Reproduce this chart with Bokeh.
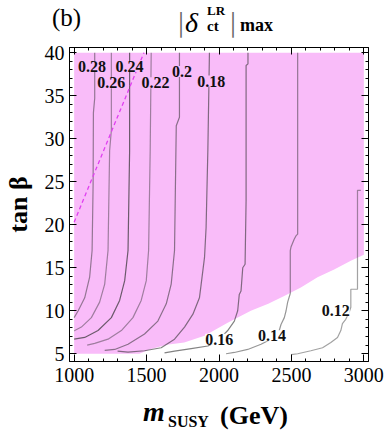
from bokeh.plotting import figure
from bokeh.models import Range1d, LinearAxis, SingleIntervalTicker, ColumnDataSource, Div
from bokeh.layouts import column
from bokeh.embed import file_html
from bokeh.resources import INLINE

# ---- data ----
# lower boundary of the shaded (pink) region, upper edge at tan(beta)=40
bnd_m = [1000, 1450, 1530, 1640, 1760, 1900, 2060, 2220, 2340, 2450, 2565, 2680, 2795, 2910, 3000]
bnd_t = [5, 5, 5.55, 6.05, 6.3, 7.1, 8.6, 10.0, 10.8, 11.7, 12.7, 13.9, 14.8, 15.8, 16.5]
top_t = 40

# contour lines of |delta_ct^LR|_max
c28_m = [1142, 1142, 1133, 1131, 1124, 1107, 1073, 1028, 1000]
c28_t = [40, 34.7, 33, 24.7, 17, 13.9, 11.5, 10, 9.2]
c26_m = [1257, 1257, 1245, 1234, 1211, 1176, 1119, 1050, 1004, 1000]
c26_t = [40, 31, 28.6, 17, 13.1, 11, 9.2, 8.1, 7.7, 7.7]
c24_m = [1383, 1383, 1372, 1349, 1314, 1257, 1165, 1073, 1000]
c24_t = [40, 28.6, 17, 13.5, 11.2, 9.2, 7.7, 6.9, 6.7]
c22_m = [1532, 1525, 1514, 1498, 1463, 1406, 1326, 1234, 1142, 1090]
c22_t = [40, 28.6, 17, 13.5, 11.2, 9.2, 7.7, 6.7, 6.2, 6.0]
c20_m = [1727, 1727, 1705, 1693, 1670, 1636, 1578, 1486, 1372, 1280, 1211]
c20_t = [40, 32.5, 31.5, 17, 13.1, 10.8, 8.8, 7.3, 6.1, 5.5, 5.4]
c18_m = [1934, 1923, 1911, 1900, 1877, 1865, 1820, 1762, 1693, 1601, 1486, 1372, 1300]
c18_t = [40, 28.6, 19.7, 16.2, 13.1, 11.5, 9.6, 8.1, 6.7, 5.7, 5.35, 5.2, 5.3]
c16_m = [2200, 2200, 2187, 2187, 2180, 2164, 2152, 2140, 2129, 2106, 2060, 1992, 1923, 1808, 1693, 1624]
c16_t = [40, 38.7, 38.5, 22.8, 15.4, 15.0, 12.3, 11.9, 10.0, 8.8, 7.7, 6.5, 5.9, 5.6, 5.3, 5.1]
c14_m = [2543, 2543, 2531, 2519, 2497, 2492, 2492, 2474, 2463, 2451, 2428, 2416, 2382, 2290, 2198, 2106, 2049]
c14_t = [40, 18.9, 18.7, 18.3, 17.4, 17, 12, 11, 10, 9.2, 8.4, 7.7, 6.9, 6.1, 5.5, 5.15, 5.0]
c12_m = [2979, 2956, 2956, 2910, 2910, 2898, 2875, 2852, 2841, 2818, 2772, 2715, 2634, 2543, 2497]
c12_t = [24, 24, 12.5, 12.5, 10.4, 9.8, 9.0, 8.5, 7.7, 6.9, 6.3, 5.7, 5.35, 5.0, 4.9]

# contour labels
lab_text = ["0.28", "0.26", "0.24", "0.22", "0.2", "0.18", "0.16", "0.14", "0.12"]
lab_m = [1124, 1257, 1383, 1562, 1744, 1946, 2001, 2365, 2806]
lab_t = [38.4, 36.5, 38.4, 36.5, 37.8, 36.7, 6.7, 7.1, 10.0]

# dashed magenta line
dash_m = [1000, 1482]
dash_t = [20.3, 40]

SERIF = "Liberation Serif"
W = 387

# ---- titles as HTML ----
def span(text, left, top, size, extra=""):
    return (f'<span style="position:absolute;left:{left}px;top:{top}px;font-size:{size}px;'
            f'line-height:1;white-space:nowrap;{extra}">{text}</span>')

top_html = (f'<div style="position:relative;width:{W}px;height:37px;font-family:\'{SERIF}\';color:black;">'
            + span("(b)", 52, 5, 25)
            + span("|", 178, 7, 30, "color:#666;")
            + span("δ", 185, 9, 28, "font-style:italic;")
            + span("LR", 207, 4, 13, "font-weight:bold;")
            + span("ct", 207, 19, 15, "font-weight:bold;")
            + span("|", 230, 7, 30, "color:#666;")
            + span("max", 240, 16, 18, "font-weight:bold;")
            + '</div>')
bottom_html = (f'<div style="position:relative;width:{W}px;height:40px;font-family:\'{SERIF}\';color:black;">'
               + span("m", 143, 5, 28, "font-weight:bold;font-style:italic;")
               + span("SUSY", 168, 21, 16, "font-weight:bold;")
               + span("(GeV)", 220, 10, 26, "font-weight:bold;")
               + '</div>')

top_div = Div(text=top_html, width=W, height=37, margin=(0, 0, 0, 0))
bottom_div = Div(text=bottom_html, width=W, height=40, margin=(0, 0, 0, 0))

# ---- figure ----
p = figure(width=W, height=356, output_backend="svg", toolbar_location=None,
           x_range=Range1d(968, 3032), y_range=Range1d(4.1, 40.6),
           min_border_left=69, min_border_right=19, min_border_top=10, min_border_bottom=32,
           margin=(0, 0, 0, 0))
p.background_fill_color = "white"
p.border_fill_color = "white"
p.outline_line_color = "black"
p.outline_line_width = 1
p.xgrid.visible = False
p.ygrid.visible = False

# shaded region
p.varea(x=bnd_m, y1=bnd_t, y2=[top_t] * len(bnd_m), fill_color="#f9bcf9", fill_alpha=1.0)

# contours
contours = [(c28_m, c28_t, 0.5), (c26_m, c26_t, 0.45), (c24_m, c24_t, 0.7),
            (c22_m, c22_t, 0.45), (c20_m, c20_t, 0.55), (c18_m, c18_t, 0.6),
            (c16_m, c16_t, 0.6), (c14_m, c14_t, 0.5), (c12_m, c12_t, 0.45)]
for xs, ys, a in contours:
    p.line(xs, ys, line_color="#303030", line_alpha=a, line_width=1.2)

# dashed line
p.line(dash_m, dash_t, line_color="#e040f0", line_width=1.3, line_dash="4 3")

# contour labels
bg = ["#f9bcf9"] * 6 + ["white"] * 3
src = ColumnDataSource(dict(x=lab_m, y=lab_t, text=lab_text, bg=bg))
p.text(x="x", y="y", text="text", source=src, text_align="center", text_baseline="middle",
       text_font={"value": SERIF}, text_font_style="bold", text_font_size="16px",
       text_color="#111111", background_fill_color="bg", padding=0)

# axes styling
def style_axis(ax, labels=True):
    ax.major_tick_in = 7
    ax.major_tick_out = 0
    ax.minor_tick_in = 3
    ax.minor_tick_out = 0
    ax.axis_line_color = "black"
    ax.major_tick_line_color = "black"
    ax.minor_tick_line_color = "black"
    ax.major_label_text_font = SERIF
    ax.major_label_text_font_size = "20px"
    ax.major_label_text_color = "black"
    if not labels:
        ax.major_label_text_color = None
        ax.major_label_text_font_size = "1px"
        ax.major_label_standoff = 0

p.xaxis.ticker = SingleIntervalTicker(interval=500, num_minor_ticks=5)
p.yaxis.ticker = SingleIntervalTicker(interval=5, num_minor_ticks=5)
for ax in p.xaxis + p.yaxis:
    style_axis(ax)
p.xaxis.major_label_standoff = 6
p.yaxis.major_label_standoff = 5
p.yaxis.axis_label = "tan β"
p.yaxis.axis_label_text_font = SERIF
p.yaxis.axis_label_text_font_size = "26px"
p.yaxis.axis_label_text_font_style = "bold"
p.yaxis.axis_label_text_color = "black"
p.yaxis.axis_label_standoff = 9

ax_top = LinearAxis(ticker=SingleIntervalTicker(interval=500, num_minor_ticks=5))
style_axis(ax_top, labels=False)
p.add_layout(ax_top, "above")
ax_right = LinearAxis(ticker=SingleIntervalTicker(interval=5, num_minor_ticks=5))
style_axis(ax_right, labels=False)
p.add_layout(ax_right, "right")

layout = column(top_div, p, bottom_div, spacing=0, margin=(0, 0, 0, 0))
open("out.html", "w").write(file_html(layout, INLINE))
